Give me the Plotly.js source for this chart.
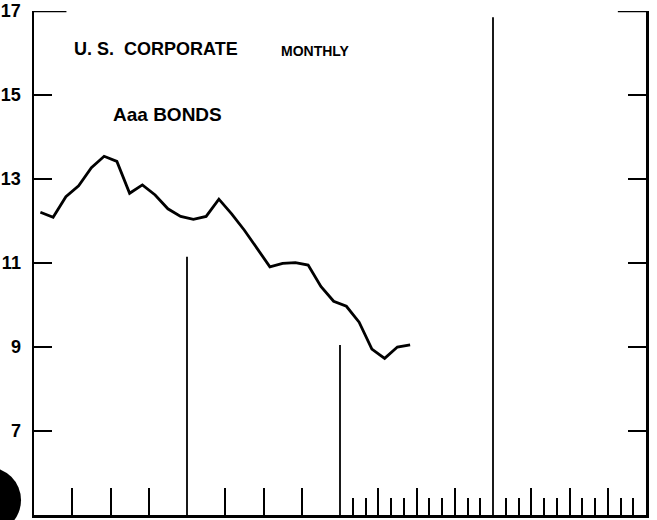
<!DOCTYPE html>
<html>
<head>
<meta charset="utf-8">
<script src="https://cdn.plot.ly/plotly-3.0.1.min.js"></script>
<style>
  html, body { margin: 0; padding: 0; background: #ffffff; }
  #chart { width: 657px; height: 520px; }
</style>
</head>
<body>
<div id="chart"></div>
<script>
// Month labels (Jan 1984 .. Jun 1986) and their index on the x axis
const monthLabels = [
  "Jan 1984","Feb 1984","Mar 1984","Apr 1984","May 1984","Jun 1984",
  "Jul 1984","Aug 1984","Sep 1984","Oct 1984","Nov 1984","Dec 1984",
  "Jan 1985","Feb 1985","Mar 1985","Apr 1985","May 1985","Jun 1985",
  "Jul 1985","Aug 1985","Sep 1985","Oct 1985","Nov 1985","Dec 1985",
  "Jan 1986","Feb 1986","Mar 1986","Apr 1986","May 1986","Jun 1986"
];
const monthIndex = [0,1,2,3,4,5,6,7,8,9,10,11,12,13,14,15,16,17,18,19,20,21,22,23,24,25,26,27,28,29];

// U.S. corporate Aaa bond yields, percent
const aaaYield = [
  12.21, 12.09, 12.58, 12.84, 13.27, 13.54, 13.42, 12.66, 12.86, 12.62, 12.29, 12.11,
  12.04, 12.11, 12.52, 12.17, 11.78, 11.35, 10.91, 10.99, 11.01, 10.95, 10.44, 10.09,
  9.97, 9.59, 8.95, 8.73, 9.00, 9.05
];

// Y axis tick values / labels
const yTickVals = [7, 9, 11, 13, 15, 17];
const yTickText = ["7", "9", "11", "13", "15", "17"];

// X axis: quarter boundaries (long ticks) and other month boundaries (short ticks)
const quarterTicks = [2.5, 5.5, 8.5, 14.5, 17.5, 20.5, 26.5, 29.5, 32.5, 38.5, 41.5, 44.5];
const monthTicks = [24.5, 25.5, 27.5, 28.5, 30.5, 31.5, 33.5, 34.5,
                    36.5, 37.5, 39.5, 40.5, 42.5, 43.5, 45.5, 46.5];

// Year divider lines (x position at year boundary, top value)
const yearDividerX = [11.5, 23.5, 35.5];
const yearDividerTop = [11.15, 9.05, 16.85];

const FONT = "Liberation Sans, Arial, Helvetica, sans-serif";

const trace = {
  x: monthIndex,
  y: aaaYield,
  text: monthLabels,
  type: "scatter",
  mode: "lines",
  line: { color: "#000000", width: 2.8, shape: "linear" },
  hovertemplate: "%{text}: %{y:.2f}<extra></extra>"
};

const shapes = [];
yearDividerX.forEach((xv, i) => {
  shapes.push({
    type: "line", xref: "x", yref: "y",
    x0: xv, x1: xv, y0: 5, y1: yearDividerTop[i],
    line: { color: "#000000", width: 1.8 }
  });
});
// top short segments of the frame at 17
shapes.push({ type: "line", xref: "paper", yref: "y", x0: 0, x1: 0.053, y0: 17, y1: 17,
  line: { color: "#000000", width: 2.5 } });
shapes.push({ type: "line", xref: "paper", yref: "y", x0: 0.954, x1: 1, y0: 17, y1: 17,
  line: { color: "#000000", width: 2.5 } });
// dark blob at lower left of the scan
shapes.push({ type: "circle", xref: "paper", yref: "paper",
  x0: -0.129, x1: -0.0212, y0: -0.036, y1: 0.095,
  fillcolor: "#000000", line: { color: "#000000", width: 0 } });

const layout = {
  width: 657,
  height: 520,
  margin: { l: 34, r: 11, t: 11, b: 5, pad: 0 },
  paper_bgcolor: "#ffffff",
  plot_bgcolor: "#ffffff",
  showlegend: false,
  xaxis: {
    range: [-0.5, 47.5],
    showgrid: false, zeroline: false,
    showline: true, linecolor: "#000000", linewidth: 2.5, mirror: false,
    tickmode: "array", tickvals: quarterTicks,
    ticks: "inside", ticklen: 27, tickwidth: 2, tickcolor: "#000000",
    showticklabels: false,
    minor: { tickmode: "array", tickvals: monthTicks, ticks: "inside",
             ticklen: 17, tickwidth: 2, tickcolor: "#000000", showgrid: false }
  },
  yaxis: {
    range: [5, 17],
    showgrid: false, zeroline: false,
    showline: true, linecolor: "#000000", linewidth: 2.5, mirror: "ticks",
    tickmode: "array", tickvals: yTickVals, ticktext: yTickText,
    ticks: "inside", ticklen: 18, tickwidth: 2, tickcolor: "#000000",
    ticklabelstandoff: 7,
    tickfont: { family: FONT, size: 18, color: "#000000", weight: "bold" }
  },
  shapes: shapes,
  annotations: [
    { xref: "paper", yref: "paper", x: 0.062, y: 0.924, xanchor: "left", yanchor: "middle",
      text: "U. S.  CORPORATE", showarrow: false,
      font: { family: FONT, size: 18, color: "#000000", weight: "bold" } },
    { xref: "paper", yref: "paper", x: 0.400, y: 0.921, xanchor: "left", yanchor: "middle",
      text: "MONTHLY", showarrow: false,
      font: { family: FONT, size: 14, color: "#000000", weight: "bold" } },
    { xref: "paper", yref: "paper", x: 0.126, y: 0.794, xanchor: "left", yanchor: "middle",
      text: "Aaa BONDS", showarrow: false,
      font: { family: FONT, size: 19, color: "#000000", weight: "bold" } }
  ]
};

Plotly.newPlot("chart", [trace], layout, { displayModeBar: false, staticPlot: true });
</script>
</body>
</html>
